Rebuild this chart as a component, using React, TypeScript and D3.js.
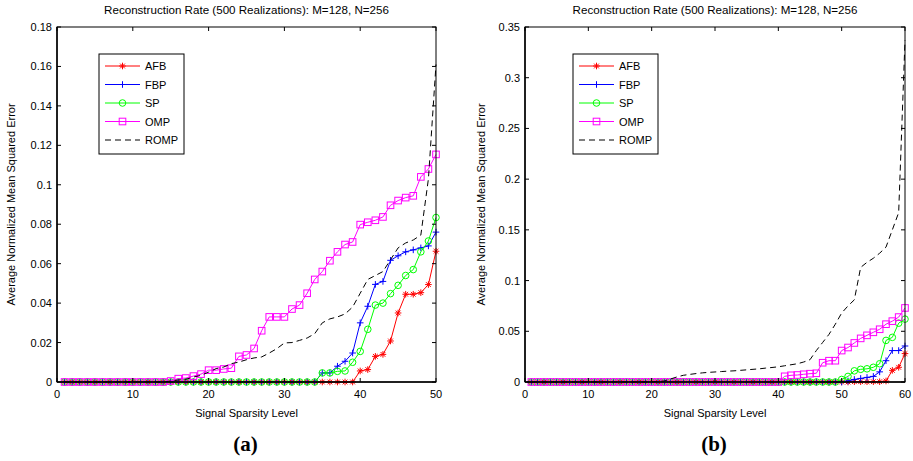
import React from "react";
import * as d3 from "d3";

const TITLE = "Reconstruction Rate (500 Realizations): M=128, N=256";
const X_LABEL = "Signal Sparsity Level";
const Y_LABEL = "Average Normalized Mean Squared Error";
const SERIES_NAMES = ["AFB", "FBP", "SP", "OMP", "ROMP"];

const zeros = (n: number) => Array.from({ length: n }, () => 0);

// Panel (a): sparsity 1..50
const A_X = d3.range(1, 51);
const A_AFB = [...zeros(39), 0.0056, 0.0063, 0.013, 0.014, 0.0208, 0.035, 0.0445, 0.0445, 0.0453, 0.0494, 0.0663];
const A_FBP = [...zeros(34), 0.0046, 0.0046, 0.008, 0.0105, 0.0147, 0.03, 0.0384, 0.0495, 0.051, 0.0617, 0.064, 0.066, 0.067, 0.068, 0.069, 0.076];
const A_SP = [...zeros(34), 0.0046, 0.0046, 0.0054, 0.0056, 0.01, 0.0155, 0.0267, 0.039, 0.04, 0.0448, 0.049, 0.054, 0.057, 0.066, 0.0715, 0.0834];
const A_OMP = [...zeros(14), 0.0005, 0.0017, 0.002, 0.003, 0.004, 0.006, 0.006, 0.0066, 0.007, 0.013, 0.0137, 0.017, 0.026, 0.033, 0.033, 0.033, 0.037, 0.039, 0.045, 0.052, 0.056, 0.0615, 0.066, 0.0697, 0.071, 0.0798, 0.081, 0.082, 0.0837, 0.0896, 0.092, 0.0935, 0.0944, 0.104, 0.108, 0.1154];
const A_ROMP = [...zeros(14), 0.0005, 0.001, 0.0014, 0.0025, 0.0034, 0.005, 0.0068, 0.0076, 0.0093, 0.0101, 0.0113, 0.0122, 0.0127, 0.0147, 0.0169, 0.0198, 0.02, 0.0211, 0.0223, 0.0245, 0.03, 0.032, 0.033, 0.0345, 0.038, 0.045, 0.052, 0.054, 0.056, 0.062, 0.068, 0.0705, 0.072, 0.0745, 0.103, 0.161];
const A_X_TICKS = [0, 10, 20, 30, 40, 50];
const A_Y_TICKS = [0, 0.02, 0.04, 0.06, 0.08, 0.1, 0.12, 0.14, 0.16, 0.18];

// Panel (b): sparsity 1..60
const B_X = d3.range(1, 61);
const B_AFB = [...zeros(51), 0.0003, 0.0003, 0.0003, 0.0003, 0.0003, 0.001, 0.0115, 0.0145, 0.028];
const B_FBP = [...zeros(50), 0.001, 0.0025, 0.0035, 0.0045, 0.0055, 0.01, 0.021, 0.031, 0.031, 0.0355];
const B_SP = [...zeros(49), 0.0025, 0.0055, 0.011, 0.0125, 0.013, 0.0145, 0.018, 0.041, 0.044, 0.058, 0.062];
const B_OMP = [...zeros(40), 0.0056, 0.0066, 0.0069, 0.0076, 0.0082, 0.0086, 0.019, 0.021, 0.021, 0.031, 0.034, 0.0385, 0.043, 0.046, 0.049, 0.052, 0.057, 0.06, 0.064, 0.073];
const B_ROMP = [...zeros(20), 0.0005, 0.001, 0.003, 0.005, 0.0066, 0.0075, 0.0083, 0.009, 0.0095, 0.0099, 0.0103, 0.0107, 0.011, 0.0115, 0.012, 0.0125, 0.013, 0.0137, 0.0143, 0.015, 0.016, 0.017, 0.018, 0.0197, 0.022, 0.031, 0.039, 0.047, 0.057, 0.068, 0.075, 0.081, 0.113, 0.118, 0.122, 0.127, 0.133, 0.15, 0.167, 0.337];
const B_X_TICKS = [0, 10, 20, 30, 40, 50, 60];
const B_Y_TICKS = [0, 0.05, 0.1, 0.15, 0.2, 0.25, 0.3, 0.35];

const COLORS = ["#ff0000", "#0000ff", "#00ff00", "#ff00ff", "#000000"];
const MARKERS = ["star", "plus", "circle", "square", "none"];

const FONT = "Arial, 'Liberation Sans', Helvetica, sans-serif";

function Marker({ type, x, y, color }: { type: string; x: number; y: number; color: string }) {
  const s = 3.3;
  if (type === "star") {
    const d = s * 0.72;
    return (
      <path
        d={`M${x - s},${y}H${x + s}M${x},${y - s}V${y + s}M${x - d},${y - d}L${x + d},${y + d}M${x - d},${y + d}L${x + d},${y - d}`}
        stroke={color}
        strokeWidth={1}
        fill="none"
      />
    );
  }
  if (type === "plus") {
    return <path d={`M${x - s},${y}H${x + s}M${x},${y - s}V${y + s}`} stroke={color} strokeWidth={1} fill="none" />;
  }
  if (type === "circle") {
    return <circle cx={x} cy={y} r={3.3} stroke={color} strokeWidth={1} fill="none" />;
  }
  if (type === "square") {
    return <rect x={x - 3.3} y={y - 3.3} width={6.6} height={6.6} stroke={color} strokeWidth={1} fill="none" />;
  }
  return null;
}

type PanelProps = {
  left: number;
  right: number;
  xMax: number;
  yMax: number;
  xs: number[];
  series: number[][];
  xTicks: number[];
  yTicks: number[];
  legendX: number;
  yLabelX: number;
  tag: string;
};

function Panel({ left, right, xMax, yMax, xs, series, xTicks, yTicks, legendX, yLabelX, tag }: PanelProps) {
  const top = 27;
  const bottom = 382;
  const x = d3.scaleLinear().domain([0, xMax]).range([left, right]);
  const y = d3.scaleLinear().domain([0, yMax]).range([bottom, top]);
  const line = d3
    .line<[number, number]>()
    .x((d) => x(d[0]))
    .y((d) => y(d[1]));
  const fmt = (v: number) => (v === 0 ? "0" : String(+v.toFixed(3)));
  const cx = (left + right) / 2;
  const tk = 4;
  const legendTop = 54;
  const rowH = 18.5;

  return (
    <g>
      <text x={cx} y={14} textAnchor="middle" fontFamily={FONT} fontSize={11.6}>
        {TITLE}
      </text>
      {/* data */}
      {series.map((vals, i) => {
        const pts = xs.map((xv, j) => [xv, vals[j]] as [number, number]);
        return (
          <g key={i}>
            <path
              d={line(pts) || ""}
              fill="none"
              stroke={COLORS[i]}
              strokeWidth={1}
              strokeDasharray={MARKERS[i] === "none" ? "6,4" : undefined}
            />
            {MARKERS[i] !== "none" &&
              pts.map((p, j) => <Marker key={j} type={MARKERS[i]} x={x(p[0])} y={y(p[1])} color={COLORS[i]} />)}
          </g>
        );
      })}
      {/* axes box */}
      <rect x={left} y={top} width={right - left} height={bottom - top} fill="none" stroke="#000" strokeWidth={1} />
      <line x1={left} x2={left} y1={top} y2={bottom} stroke="#000" strokeWidth={1.5} />
      <line x1={left} x2={right} y1={bottom} y2={bottom} stroke="#000" strokeWidth={1.5} />
      {xTicks.map((t) => (
        <g key={"x" + t}>
          <line x1={x(t)} x2={x(t)} y1={bottom} y2={bottom - tk} stroke="#000" />
          <line x1={x(t)} x2={x(t)} y1={top} y2={top + tk} stroke="#000" />
          <text x={x(t)} y={bottom + 16} textAnchor="middle" fontFamily={FONT} fontSize={11}>
            {t}
          </text>
        </g>
      ))}
      {yTicks.map((t) => (
        <g key={"y" + t}>
          <line x1={left} x2={left + tk} y1={y(t)} y2={y(t)} stroke="#000" />
          <line x1={right} x2={right - tk} y1={y(t)} y2={y(t)} stroke="#000" />
          <text x={left - 5} y={y(t) + 4} textAnchor="end" fontFamily={FONT} fontSize={11}>
            {fmt(t)}
          </text>
        </g>
      ))}
      <text x={cx} y={417} textAnchor="middle" fontFamily={FONT} fontSize={11}>
        {X_LABEL}
      </text>
      <text
        transform={`translate(${yLabelX},${(top + bottom) / 2}) rotate(-90)`}
        textAnchor="middle"
        fontFamily={FONT}
        fontSize={11}
      >
        {Y_LABEL}
      </text>
      {/* legend */}
      <rect x={legendX} y={legendTop} width={85} height={100} fill="#fff" stroke="#000" strokeWidth={1} />
      {SERIES_NAMES.map((name, i) => {
        const ly = legendTop + 12 + i * rowH;
        return (
          <g key={name}>
            <line
              x1={legendX + 6}
              x2={legendX + 41}
              y1={ly}
              y2={ly}
              stroke={COLORS[i]}
              strokeWidth={1}
              strokeDasharray={MARKERS[i] === "none" ? "6,4" : undefined}
            />
            <Marker type={MARKERS[i]} x={legendX + 23.5} y={ly} color={COLORS[i]} />
            <text x={legendX + 46} y={ly + 4} fontFamily={FONT} fontSize={11}>
              {name}
            </text>
          </g>
        );
      })}
      <text
        x={cx - 1}
        y={451}
        textAnchor="middle"
        fontFamily="'Liberation Serif', 'Times New Roman', serif"
        fontWeight="bold"
        fontSize={21}
      >
        {tag}
      </text>
    </g>
  );
}

export default function App() {
  return (
    <svg
      width={913}
      height={461}
      style={{ position: "absolute", left: 0, top: 0, background: "#fff" }}
    >
      <rect x={0} y={0} width={913} height={461} fill="#fff" />
      <Panel
        left={57}
        right={436}
        xMax={50}
        yMax={0.18}
        xs={A_X}
        series={[A_AFB, A_FBP, A_SP, A_OMP, A_ROMP]}
        xTicks={A_X_TICKS}
        yTicks={A_Y_TICKS}
        legendX={99}
        yLabelX={15}
        tag="(a)"
      />
      <Panel
        left={525}
        right={905}
        xMax={60}
        yMax={0.35}
        xs={B_X}
        series={[B_AFB, B_FBP, B_SP, B_OMP, B_ROMP]}
        xTicks={B_X_TICKS}
        yTicks={B_Y_TICKS}
        legendX={573}
        yLabelX={485}
        tag="(b)"
      />
    </svg>
  );
}
